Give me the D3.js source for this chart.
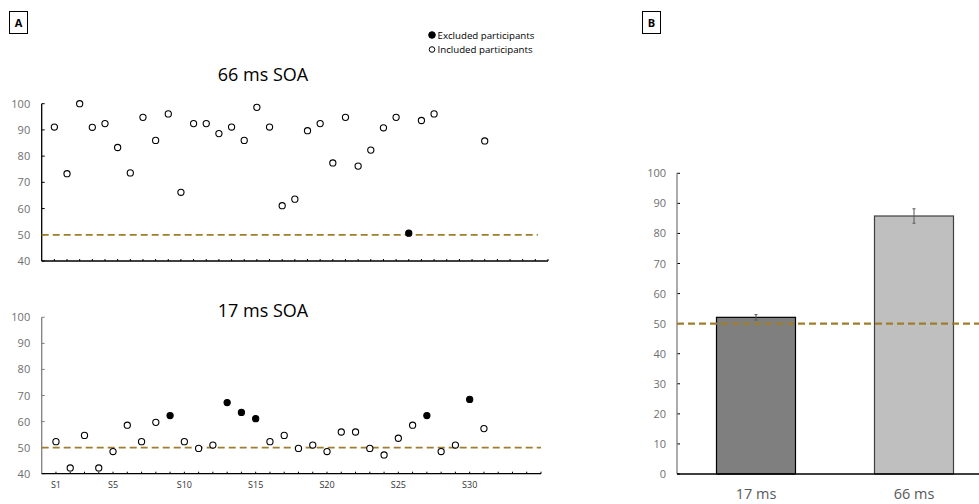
<!DOCTYPE html>
<html><head><meta charset="utf-8">
<script src="https://cdn.jsdelivr.net/npm/d3@7"></script>
<style>body{margin:0;background:#fff}svg{display:block}text{font-family:"Open Sans","Noto Sans",sans-serif}</style>
</head><body>
<script>
// ---------- DATA ----------
const top66Subjects = [1,2,3,4,5,6,7,8,9,10,11,12,13,14,15,16,17,18,19,20,21,22,23,24,25,26,27,28,29,30,31,35];
const top66Values   = [91.1,73.3,100,91,92.4,83.3,73.6,94.8,86,96.1,66.2,92.4,92.4,88.6,91.1,86,98.6,91.1,61.1,63.6,89.7,92.4,77.4,94.8,76.2,82.3,90.8,94.8,50.6,93.6,96.1,85.8];
const top66Excluded = [29];
const bot17Subjects = [1,2,3,4,5,6,7,8,9,10,11,12,13,14,15,16,17,18,19,20,21,22,23,24,25,26,27,28,29,30,31];
const bot17Values   = [52.3,42.2,54.7,42.2,48.5,58.6,52.3,59.7,62.3,52.3,49.7,51,67.3,63.5,61.1,52.3,54.7,49.7,51,48.5,56,56,49.7,47.2,53.6,58.6,62.3,48.5,51,68.5,57.3];
const bot17Excluded = [9,13,14,15,27,30];
const subjectTickValues = [1,5,10,15,20,25,30];
const subjectTickLabels = ["S1","S5","S10","S15","S20","S25","S30"];
const yTicksScatter = [40,50,60,70,80,90,100];
const barCategories = ["17 ms","66 ms"];
const barMeans = [52.1,85.8];
const barErrors = [0.9,2.4];
const yTicksBar = [0,10,20,30,40,50,60,70,80,90,100];
const chanceLevel = 50;
const legendLabels = ["Excluded participants","Included participants"];
const panelTitles = ["66 ms SOA","17 ms SOA"];

// ---------- STYLE ----------
const W = 979, H = 504;
const dashColor = "#9E7E2E";
const tickGray = "#6f6f6f";

const svg = d3.select("body").append("svg").attr("width", W).attr("height", H);

// panel label boxes
function panelLabel(x, y, t){
  svg.append("rect").attr("x", x).attr("y", y).attr("width", 18).attr("height", 22)
    .attr("fill", "none").attr("stroke", "#000").attr("stroke-width", 1);
  svg.append("text").attr("x", x + 9).attr("y", y + 15.5).attr("text-anchor", "middle")
    .attr("font-size", 11).attr("font-weight", "bold").attr("fill", "#000").text(t);
}
panelLabel(9.5, 11.5, "A");
panelLabel(642.5, 11.5, "B");

// legend
const lg = svg.append("g");
legendLabels.forEach((l, i) => {
  const cy = 35 + i * 14.5;
  lg.append("circle").attr("cx", 432).attr("cy", cy).attr("r", i === 0 ? 3.3 : 2.8)
    .attr("fill", i === 0 ? "#000" : "#fff").attr("stroke", "#000").attr("stroke-width", 1);
  lg.append("text").attr("x", 437.5).attr("y", cy + 3.6).attr("font-size", 9.7)
    .attr("fill", "#000").text(l);
});

function scatterPanel(opts){
  const {xMax, xRange, yRange, subjects, values, excluded, title, titleX, titleY, showLabels, yAxisColor, dashEnd} = opts;
  const x = d3.scaleLinear().domain([0, xMax]).range(xRange);
  const y = d3.scaleLinear().domain([40, 100]).range(yRange);
  const g = svg.append("g");

  g.selectAll(".yl").data(yTicksScatter).enter().append("text")
    .attr("x", xRange[0] - 11.5).attr("y", d => y(d) + 4)
    .attr("text-anchor", "end").attr("font-size", 11).attr("fill", tickGray).text(d => d);
  g.selectAll(".yt").data(yTicksScatter).enter().append("line")
    .attr("x1", xRange[0]).attr("x2", xRange[0] + 3).attr("y1", d => y(d)).attr("y2", d => y(d))
    .attr("stroke", yAxisColor).attr("stroke-width", 1);
  g.append("line").attr("x1", xRange[0]).attr("x2", xRange[0]).attr("y1", y(100)).attr("y2", y(40))
    .attr("stroke", yAxisColor).attr("stroke-width", 1.3);

  const xt = d3.range(1, xMax + 1);
  g.selectAll(".xt").data(xt).enter().append("line")
    .attr("x1", d => x(d)).attr("x2", d => x(d)).attr("y1", y(40)).attr("y2", y(40) - 2)
    .attr("stroke", "#000").attr("stroke-width", 1);
  g.append("line").attr("x1", xRange[0]).attr("x2", xRange[1]).attr("y1", y(40)).attr("y2", y(40))
    .attr("stroke", "#000").attr("stroke-width", 1.3);
  if (showLabels){
    g.selectAll(".xl").data(subjectTickValues).enter().append("text")
      .attr("x", d => x(d)).attr("y", y(40) + 14.5)
      .attr("text-anchor", "middle").attr("font-size", 9).attr("fill", "#333")
      .text((d, i) => subjectTickLabels[i]);
  }

  g.append("line").attr("x1", x(0)).attr("x2", x(dashEnd)).attr("y1", y(chanceLevel)).attr("y2", y(chanceLevel))
    .attr("stroke", dashColor).attr("stroke-width", 1.8).attr("stroke-dasharray", "7,4");

  const pts = subjects.map((s, i) => ({s, v: values[i], ex: excluded.includes(s)}));
  g.selectAll(".pt").data(pts).enter().append("circle")
    .attr("cx", d => x(d.s)).attr("cy", d => y(d.v)).attr("r", 3.1)
    .attr("fill", d => d.ex ? "#000" : "#fff").attr("stroke", "#000").attr("stroke-width", 1.1);

  g.append("text").attr("x", titleX).attr("y", titleY).attr("text-anchor", "middle")
    .attr("font-size", 18).attr("fill", "#000").text(title);
}

scatterPanel({xMax: 40, xRange: [41.7, 548], yRange: [261, 103.7], subjects: top66Subjects, values: top66Values,
  excluded: top66Excluded, title: panelTitles[0], titleX: 263, titleY: 81, showLabels: false, yAxisColor: "#000", dashEnd: 39.2});
scatterPanel({xMax: 35, xRange: [41.7, 541], yRange: [473.7, 317.3], subjects: bot17Subjects, values: bot17Values,
  excluded: bot17Excluded, title: panelTitles[1], titleX: 263, titleY: 316.5, showLabels: true, yAxisColor: "#7f7f7f", dashEnd: 35});

// ---------- BAR PANEL ----------
const bx = d3.scaleBand().domain(barCategories).range([677, 993]).paddingInner(0.5).paddingOuter(0.25);
const by = d3.scaleLinear().domain([0, 100]).range([474, 173.3]);
const bg = svg.append("g");
bg.selectAll(".byl").data(yTicksBar).enter().append("text")
  .attr("x", 666).attr("y", d => by(d) + 4).attr("text-anchor", "end")
  .attr("font-size", 11).attr("fill", tickGray).text(d => d);
bg.selectAll(".byt").data(yTicksBar).enter().append("line")
  .attr("x1", 677).attr("x2", 680).attr("y1", d => by(d)).attr("y2", d => by(d))
  .attr("stroke", "#000").attr("stroke-width", 1);
bg.append("line").attr("x1", 677).attr("x2", 677).attr("y1", by(100)).attr("y2", by(0))
  .attr("stroke", "#7f7f7f").attr("stroke-width", 1.3);

const barFill = ["#7F7F7F", "#BFBFBF"];
bg.selectAll(".bar").data(barCategories).enter().append("rect")
  .attr("x", d => bx(d)).attr("width", bx.bandwidth())
  .attr("y", (d, i) => by(barMeans[i])).attr("height", (d, i) => by(0) - by(barMeans[i]))
  .attr("fill", (d, i) => barFill[i]).attr("stroke", (d, i) => i === 0 ? "#000" : "#404040").attr("stroke-width", 1.2);

bg.append("line").attr("x1", 677).attr("x2", W).attr("y1", by(0)).attr("y2", by(0))
  .attr("stroke", "#000").attr("stroke-width", 1.3);

barCategories.forEach((c, i) => {
  const cx = bx(c) + bx.bandwidth() / 2;
  const lo = by(barMeans[i] - barErrors[i]), hi = by(barMeans[i] + barErrors[i]);
  bg.append("line").attr("x1", cx).attr("x2", cx).attr("y1", lo).attr("y2", hi).attr("stroke", "#595959").attr("stroke-width", 1);
  [lo, hi].forEach(yy => bg.append("line").attr("x1", cx - 1.5).attr("x2", cx + 1.5).attr("y1", yy).attr("y2", yy)
    .attr("stroke", "#595959").attr("stroke-width", 1));
});

bg.append("line").attr("x1", 677).attr("x2", W).attr("y1", by(chanceLevel)).attr("y2", by(chanceLevel))
  .attr("stroke", dashColor).attr("stroke-width", 2.2).attr("stroke-dasharray", "7,4");

bg.selectAll(".bxl").data(barCategories).enter().append("text")
  .attr("x", d => bx(d) + bx.bandwidth() / 2).attr("y", 499)
  .attr("text-anchor", "middle").attr("font-size", 14.5).attr("fill", "#595959").text(d => d);
</script>
</body></html>
